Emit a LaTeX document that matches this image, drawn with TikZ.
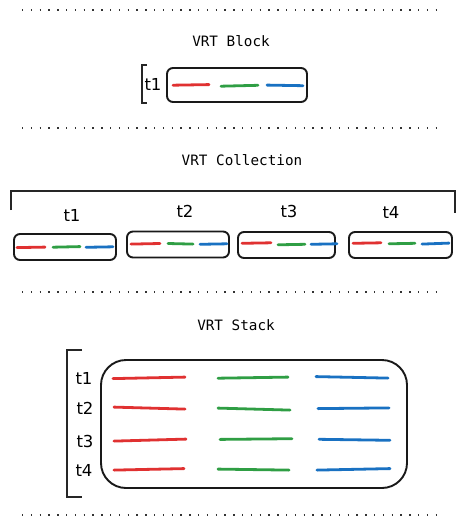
\documentclass[tikz,border=0pt]{standalone}
\usepackage{fontspec}
\setmainfont{DejaVu Sans}
\newfontfamily\titlefont{DejaVu Sans Mono}
\newfontfamily\handfont{DejaVu Sans}
\definecolor{xred}{HTML}{E03131}
\definecolor{xgreen}{HTML}{2F9E44}
\definecolor{xblue}{HTML}{1971C2}
\begin{document}
\begin{tikzpicture}[x=1pt,y=-1pt,
  sep/.style={line width=1.3pt, dash pattern=on 1.3pt off 7.5pt, color=black!80},
  ttl/.style={font=\titlefont\fontsize{14.3}{16}\selectfont, inner sep=0pt},
  tlab/.style={font=\handfont\fontsize{16.5}{18}\selectfont, inner sep=0pt},
  blk/.style={draw=black!90, line width=1.9pt, rounded corners=6pt},
  bigblk/.style={draw=black!90, line width=1.9pt, rounded corners=25pt},
  brk/.style={draw=black!85, line width=1.1pt},
  rl/.style={xred, line width=2.8pt, line cap=round},
  gl/.style={xgreen, line width=2.8pt, line cap=round},
  bl/.style={xblue, line width=2.8pt, line cap=round}]
\useasboundingbox (0,0) rectangle (465,524);
% separators
\coordinate (s1a) at (22,10); \coordinate (s1b) at (442,10);
\coordinate (s2a) at (22,128); \coordinate (s2b) at (442,128);
\coordinate (s3a) at (22,292); \coordinate (s3b) at (442,292);
\coordinate (s4a) at (22,515); \coordinate (s4b) at (442,515);
\draw[sep] (s1a) -- (s1b);
\draw[sep] (s2a) -- (s2b);
\draw[sep] (s3a) -- (s3b);
\draw[sep] (s4a) -- (s4b);

% ---- VRT Block
\node[ttl] (tblock) at (231,41) {VRT Block};
\draw[brk] (147,65) -- (142,65) -- (142,103) -- (147,103);
\node[tlab] (bt1) at (153,84) {t1};
\node[blk, minimum width=140pt, minimum height=34pt] (bbox) at (237,85) {};
\draw[rl] (173,85.2) -- (209,84.6);
\draw[gl] (221,86.2) -- (258,85.3);
\draw[bl] (267,85.1) -- (303,85.7);

% ---- VRT Collection
\node[ttl] (tcoll) at (242,160) {VRT Collection};
\draw[brk] (11,210) -- (11,191) -- (455,191) -- (455,213);
\node[tlab] (ct1) at (72,215) {t1};
\node[tlab] (ct2) at (185,211) {t2};
\node[tlab] (ct3) at (289,211) {t3};
\node[tlab] (ct4) at (391,212) {t4};
\node[blk, minimum width=102pt, minimum height=26pt] (cb1) at (65,247) {};
\node[blk, minimum width=102pt, minimum height=26pt] (cb2) at (178,244.5) {};
\node[blk, minimum width=97pt, minimum height=26pt] (cb3) at (286.5,245) {};
\node[blk, minimum width=103pt, minimum height=26pt] (cb4) at (400.5,245) {};
\draw[rl] (17,247.6) -- (45,247.1);
\draw[gl] (53,247.2) -- (80,246.6);
\draw[bl] (86,247.3) -- (113,246.8);
\draw[rl] (131,244.1) -- (160,243.5);
\draw[gl] (168,243.5) -- (193,244.1);
\draw[bl] (200,244.3) -- (227,243.8);
\draw[rl] (242,243.3) -- (271,242.8);
\draw[gl] (278,244.8) -- (305,244.3);
\draw[bl] (311,244.3) -- (337,243.8);
\draw[rl] (353,243.3) -- (381,242.8);
\draw[gl] (389,243.8) -- (415,243.3);
\draw[bl] (422,244.1) -- (449,243.1);

% ---- VRT Stack
\node[ttl] (tstack) at (236,325) {VRT Stack};
\draw[brk] (82,350) -- (67,350) -- (67,497) -- (82,497);
\node[tlab] (st1) at (84,378) {t1};
\node[tlab] (st2) at (85,408) {t2};
\node[tlab] (st3) at (85,441) {t3};
\node[tlab] (st4) at (84,470) {t4};
\node[bigblk, minimum width=306pt, minimum height=128pt] (sbox) at (254,424) {};
\draw[rl] (113,378.6) -- (185,377.1);
\draw[gl] (218,378.2) -- (288,377.1);
\draw[bl] (316,376.6) -- (388,378.1);
\draw[rl] (114,407.1) -- (185,409.1);
\draw[gl] (218,408.1) -- (290,410.1);
\draw[bl] (318,408.6) -- (389,407.9);
\draw[rl] (114,441.1) -- (186,439.1);
\draw[gl] (220,439.4) -- (292,438.7);
\draw[bl] (319,439.3) -- (390,440.3);
\draw[rl] (114,470.1) -- (184,468.6);
\draw[gl] (218,469.1) -- (289,470.1);
\draw[bl] (317,470.1) -- (390,468.6);
\end{tikzpicture}
\end{document}
